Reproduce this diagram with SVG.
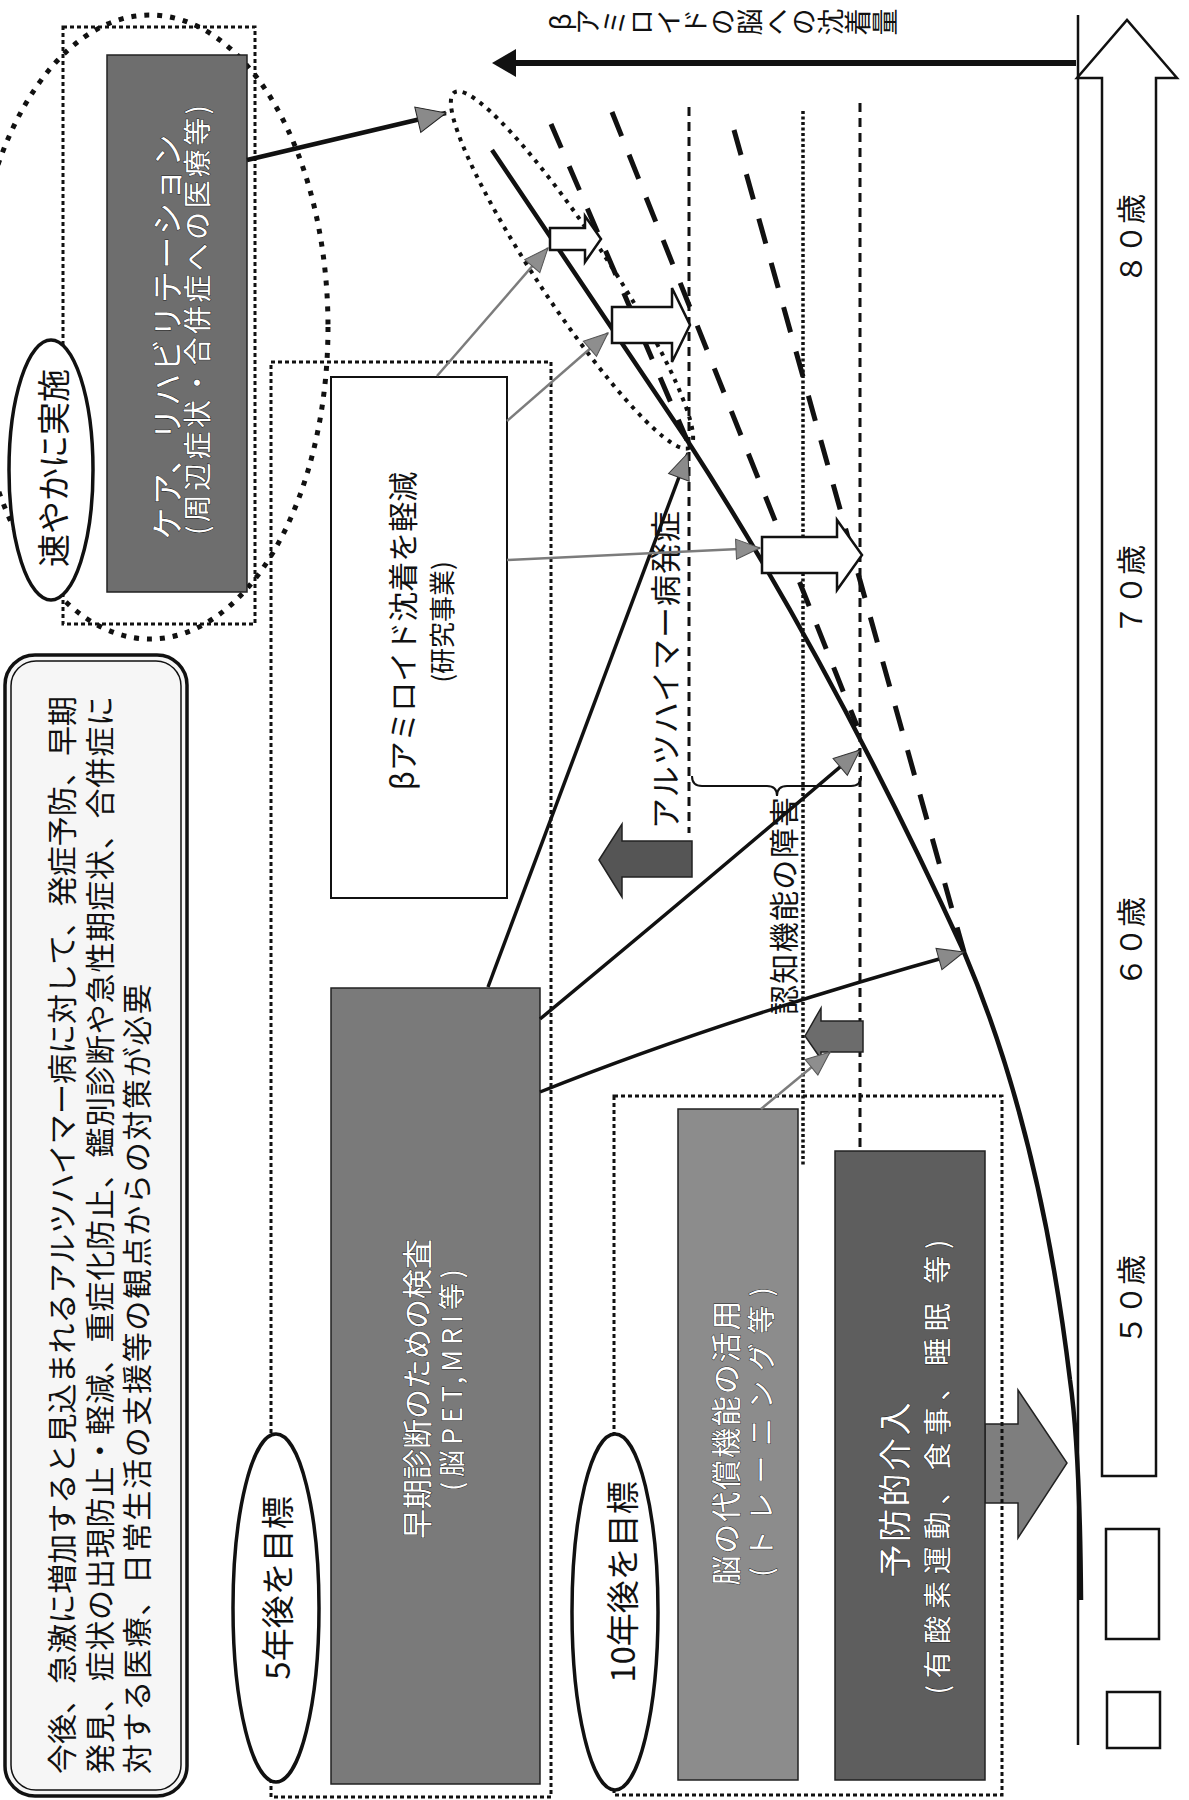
<svg xmlns="http://www.w3.org/2000/svg" width="1189" height="1800" viewBox="0 0 1189 1800">
<style>
.t{font-family:"Noto Sans CJK JP","Noto Sans CJK SC",sans-serif;fill:#111;}
.w{font-family:"Noto Sans CJK JP","Noto Sans CJK SC",sans-serif;fill:#fff;stroke:#222;stroke-width:0.9;paint-order:stroke;}
.dotR{fill:none;stroke:#111;stroke-width:3;stroke-dasharray:4 3;}
.dotE{fill:none;stroke:#111;stroke-width:5;stroke-dasharray:5 8;}
.dotS{fill:none;stroke:#111;stroke-width:4;stroke-dasharray:4 6;}
.dash{fill:none;stroke:#111;stroke-width:5;stroke-dasharray:26 20;}
.vd{fill:none;stroke:#111;stroke-width:3;stroke-dasharray:9 6;}
.vdd{fill:none;stroke:#111;stroke-width:3.5;stroke-dasharray:3 2.5;}
.blk{fill:none;stroke:#111;stroke-width:3.5;}
.gry{fill:none;stroke:#7c7c7c;stroke-width:2.5;}
.hol{fill:#fff;stroke:#111;stroke-width:2.5;}
.oval{fill:#fff;stroke:#111;stroke-width:3.5;}
</style>
<defs>
<marker id="hb" markerUnits="userSpaceOnUse" markerWidth="34" markerHeight="32" viewBox="-31 -15 34 30" refX="0" refY="0" orient="auto"><path d="M0,0 L-29,-13 L-29,13 Z" fill="#8a8a8a" stroke="#222" stroke-width="1"/></marker>
<marker id="hm" markerUnits="userSpaceOnUse" markerWidth="30" markerHeight="26" viewBox="-28 -13 30 26" refX="0" refY="0" orient="auto"><path d="M0,0 L-26,-11 L-26,11 Z" fill="#8a8a8a" stroke="#333" stroke-width="1"/></marker>
<marker id="hg" markerUnits="userSpaceOnUse" markerWidth="28" markerHeight="24" viewBox="-26 -12 28 24" refX="0" refY="0" orient="auto"><path d="M0,0 L-24,-10 L-24,10 Z" fill="#8e8e8e" stroke="#555" stroke-width="1"/></marker>
</defs>
<rect width="1189" height="1800" fill="#fff"/>

<!-- axes -->
<g id="axes">
<path d="M1078,15 V1745" fill="none" stroke="#111" stroke-width="2.5"/>
<path d="M1076,63 H514" fill="none" stroke="#111" stroke-width="6"/>
<polygon points="492,63 516,49 516,77" fill="#111"/>
<text class="t" font-size="27" style="writing-mode:vertical-rl;text-orientation:upright" transform="translate(547,22) rotate(-90)">βアミロイドの脳への沈着量</text>
<polygon class="hol" points="1102,1476 1102,78 1077,78 1127,20 1177,78 1156,78 1156,1476"/>
<rect class="hol" x="1106" y="1529" width="53" height="110"/>
<rect class="hol" x="1107" y="1692" width="53" height="56"/>
<text class="t" font-size="30" text-anchor="middle" dominant-baseline="central" transform="translate(1129,239) rotate(-90)">８０歳</text>
<text class="t" font-size="30" text-anchor="middle" dominant-baseline="central" transform="translate(1129,590) rotate(-90)">７０歳</text>
<text class="t" font-size="30" text-anchor="middle" dominant-baseline="central" transform="translate(1129,942) rotate(-90)">６０歳</text>
<text class="t" font-size="30" text-anchor="middle" dominant-baseline="central" transform="translate(1129,1300) rotate(-90)">５０歳</text>
</g>

<!-- curves and guide lines -->
<g id="curves">
<path class="vd" d="M689,107 V833"/>
<path class="vdd" d="M803,111 V1166"/>
<path class="vd" d="M860,103 V1147"/>
<path class="dash" d="M551,124 L687,440"/>
<path class="dash" d="M612,112 L857,726"/>
<path class="dash" d="M734,130 L964,952"/>
<path d="M492,150 L687,440 Q830,660 964,952 Q1040,1130 1070,1380 Q1080,1450 1081,1600" fill="none" stroke="#111" stroke-width="4.5"/>
<ellipse class="dotS" cx="572" cy="270" rx="213" ry="35" transform="rotate(56.5 572 270)"/>
<path d="M692,776 Q692,786 702,786 L767,786 Q777,786 777,796 Q777,786 787,786 L851,786 Q861,786 861,776" fill="none" stroke="#111" stroke-width="2"/>
<text class="t" font-size="31" text-anchor="middle" dominant-baseline="central" textLength="318" lengthAdjust="spacing" transform="translate(663,670) rotate(-90)">アルツハイマー病発症</text>
<text class="t" font-size="30" text-anchor="middle" dominant-baseline="central" textLength="218" lengthAdjust="spacing" transform="translate(782,906) rotate(-90)">認知機能の障害</text>
</g>

<!-- hollow arrows on curve -->
<g id="hollow-arrows">
<polygon class="hol" points="550,228 585,228 585,216 601,239 585,262 585,250 550,250"/>
<polygon class="hol" points="612,307 672,307 672,288 690,325 672,362 672,343 612,343"/>
<polygon class="hol" points="762,537 837,537 837,520 862,555 837,590 837,573 762,573"/>
</g>

<!-- gray block arrows -->
<g id="block-arrows">
<polygon points="599,860 622,824 622,841 692,841 692,877 622,877 622,897" fill="#555" stroke="#222" stroke-width="1.5"/>
<polygon points="805,1036 821,1008 821,1021 863,1021 863,1052 821,1052 821,1059" fill="#6c6c6c" stroke="#222" stroke-width="1.5"/>
<polygon points="985,1424 1018,1424 1018,1390 1067,1463 1018,1538 1018,1503 985,1503" fill="#7e7e7e" stroke="#222" stroke-width="1.5"/>
</g>

<!-- info box -->
<g id="info">
<rect x="5" y="655" width="182" height="1141" rx="30" fill="#f6f6f6" stroke="#111" stroke-width="3.5"/>
<rect x="11" y="661" width="170" height="1129" rx="25" fill="none" stroke="#111" stroke-width="1.5"/>
<text class="t" font-size="30" text-anchor="middle" dominant-baseline="central" textLength="1078" lengthAdjust="spacing" transform="translate(60,1235) rotate(-90)">今後、急激に増加すると見込まれるアルツハイマー病に対して、発症予防、早期</text>
<text class="t" font-size="30" text-anchor="middle" dominant-baseline="central" textLength="1078" lengthAdjust="spacing" transform="translate(98,1235) rotate(-90)">発見、症状の出現防止・軽減、重症化防止、鑑別診断や急性期症状、合併症に</text>
<text class="t" font-size="30" dominant-baseline="central" textLength="790" lengthAdjust="spacing" transform="translate(135,1774) rotate(-90)">対する医療、日常生活の支援等の観点からの対策が必要</text>
</g>

<!-- care group -->
<g id="care">
<ellipse class="dotE" cx="150" cy="327" rx="178" ry="312"/>
<rect class="dotR" x="63" y="27" width="192" height="597"/>
<rect x="107" y="55" width="140" height="537" fill="#6e6e6e" stroke="#222" stroke-width="1.5"/>
<text class="w" font-size="32" text-anchor="middle" dominant-baseline="central" textLength="405" lengthAdjust="spacing" transform="translate(165,337) rotate(-90)">ケア、リハビリテーション</text>
<text class="w" font-size="28" text-anchor="middle" dominant-baseline="central" textLength="430" lengthAdjust="spacing" transform="translate(196,320) rotate(-90)">(周辺症状・合併症への医療等)</text>
<ellipse class="oval" cx="51" cy="470" rx="42" ry="130"/>
<text class="t" font-size="33" text-anchor="middle" dominant-baseline="central" transform="translate(52,468) rotate(-90)">速やかに実施</text>
</g>

<!-- 5-year group -->
<g id="five-year">
<rect class="dotR" x="271" y="362" width="280" height="1435"/>
<rect x="331" y="377" width="176" height="521" fill="#fff" stroke="#111" stroke-width="2"/>
<text class="t" font-size="30" text-anchor="middle" dominant-baseline="central" transform="translate(401,631) rotate(-90)">βアミロイド沈着を軽減</text>
<text class="t" font-size="26" text-anchor="middle" dominant-baseline="central" transform="translate(440,622) rotate(-90)">(研究事業)</text>
<rect x="331" y="988" width="209" height="796" fill="#7a7a7a" stroke="#222" stroke-width="1.5"/>
<text class="w" font-size="30" text-anchor="middle" dominant-baseline="central" transform="translate(415,1389) rotate(-90)">早期診断のための検査</text>
<text class="w" font-size="27" text-anchor="middle" dominant-baseline="central" textLength="222" lengthAdjust="spacing" transform="translate(450,1380) rotate(-90)">(脳PET,MRI等)</text>
<ellipse class="oval" cx="276" cy="1608" rx="43" ry="174"/>
<text class="t" font-size="33" text-anchor="middle" dominant-baseline="central" transform="translate(276,1588) rotate(-90)">5年後を目標</text>
</g>

<!-- 10-year group -->
<g id="ten-year">
<rect class="dotR" x="614" y="1096" width="388" height="699"/>
<rect x="678" y="1109" width="120" height="671" fill="#8c8c8c" stroke="#222" stroke-width="1.5"/>
<text class="w" font-size="30" text-anchor="middle" dominant-baseline="central" textLength="285" lengthAdjust="spacing" transform="translate(724,1443) rotate(-90)">脳の代償機能の活用</text>
<text class="w" font-size="28" text-anchor="middle" dominant-baseline="central" textLength="290" lengthAdjust="spacing" transform="translate(760,1432) rotate(-90)">(トレーニング等)</text>
<rect x="835" y="1151" width="150" height="629" fill="#5e5e5e" stroke="#222" stroke-width="1.5"/>
<text class="w" font-size="33" text-anchor="middle" dominant-baseline="central" textLength="175" lengthAdjust="spacing" transform="translate(893,1490) rotate(-90)">予防的介入</text>
<text class="w" font-size="28" text-anchor="middle" dominant-baseline="central" textLength="455" lengthAdjust="spacing" transform="translate(936,1467) rotate(-90)">(有酸素運動、食事、睡眠 等)</text>
<ellipse class="oval" cx="615" cy="1612" rx="43" ry="178"/>
<text class="t" font-size="33" text-anchor="middle" dominant-baseline="central" transform="translate(621,1582) rotate(-90)">10年後を目標</text>
</g>

<!-- connectors -->
<g id="connectors">
<path d="M247,160 L446,113" fill="none" stroke="#111" stroke-width="4.5" marker-end="url(#hb)"/>
<path class="blk" d="M488,987 L688,453" marker-end="url(#hm)"/>
<path class="blk" d="M540,1019 Q690,895 860,750" marker-end="url(#hm)"/>
<path class="blk" d="M540,1092 Q720,1020 964,952" marker-end="url(#hm)"/>
<path class="gry" d="M437,376 L548,248" marker-end="url(#hg)"/>
<path class="gry" d="M507,421 L608,333" marker-end="url(#hg)"/>
<path class="gry" d="M507,560 L760,548" marker-end="url(#hg)"/>
<path class="gry" d="M761,1109 L830,1052" marker-end="url(#hg)"/>
</g>
</svg>
